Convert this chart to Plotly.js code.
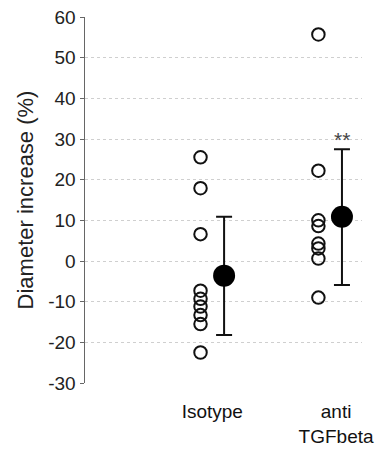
<!DOCTYPE html>
<html>
<head>
<meta charset="utf-8">
<script src="https://cdn.plot.ly/plotly-3.0.1.min.js"></script>
<style>html,body{margin:0;padding:0;background:#fff;}#chart{width:381px;height:451px;}</style>
</head>
<body>
<div id="chart"></div>
<script>
const groups = ["Isotype", "anti<br>TGFbeta"];
const isotypeValues = [25.5, 17.9, 6.6, -7.3, -9.3, -11.2, -13.3, -15.5, -22.5];
const antiValues = [55.7, 22.2, 10.0, 8.6, 4.3, 3.1, 0.6, -9.0];
const means = [-3.6, 10.9];
const errPlus = [14.5, 16.6];
const errMinus = [14.6, 16.8];
const significance = ["", "**"];
const yTicks = [-30, -20, -10, 0, 10, 20, 30, 40, 50, 60];

const FONT = 'Liberation Sans, Arial, sans-serif';
const pointOffset = -0.1, meanOffset = 0.1;
const traces = [];
[isotypeValues, antiValues].forEach((vals, gi) => {
  traces.push({
    type: 'scatter', mode: 'markers',
    x: vals.map(() => gi + pointOffset), y: vals,
    marker: {symbol: 'circle-open', size: 12.5, color: '#111', line: {width: 2, color: '#111'}},
    hoverinfo: 'y', showlegend: false
  });
});
traces.push({
  type: 'scatter', mode: 'markers',
  x: means.map((m, i) => i + meanOffset), y: means,
  marker: {symbol: 'circle', size: 22, color: '#000'},
  error_y: {type: 'data', symmetric: false, array: errPlus, arrayminus: errMinus, color: '#111', thickness: 2, width: 8},
  showlegend: false
});

const annotations = significance.map((s, i) => ({
  x: i + meanOffset, y: means[i] + errPlus[i], text: s, showarrow: false,
  yanchor: 'bottom', yshift: -4, font: {family: FONT, size: 21, color: '#444'}
})).filter(a => a.text);

const layout = {
  width: 381, height: 451,
  margin: {l: 85, r: 19, t: 17, b: 68},
  paper_bgcolor: '#fff', plot_bgcolor: '#fff',
  font: {family: FONT, color: '#222'},
  xaxis: {
    range: [-1.08, 1.27], tickvals: [0, 1.05], ticktext: groups,
    showgrid: false, zeroline: false, showline: false, ticks: '',
    ticklabelstandoff: 15,
    tickfont: {size: 19, color: '#111'}, fixedrange: true
  },
  yaxis: {
    range: [-30, 60], tickvals: yTicks, ticktext: yTicks.map(String),
    showgrid: true, gridcolor: '#cfcfcf', griddash: 'dot', gridwidth: 1,
    zeroline: false, showline: true, linecolor: '#666', linewidth: 1.5,
    ticks: 'outside', ticklen: 4, tickcolor: '#666', tickwidth: 1,
    tickfont: {size: 19, color: '#222'},
    title: {text: 'Diameter increase (%)', font: {size: 22, color: '#222'}, standoff: 8},
    fixedrange: true
  },
  annotations: annotations
};
Plotly.newPlot('chart', traces, layout, {displayModeBar: false, staticPlot: true});
</script>
</body>
</html>
